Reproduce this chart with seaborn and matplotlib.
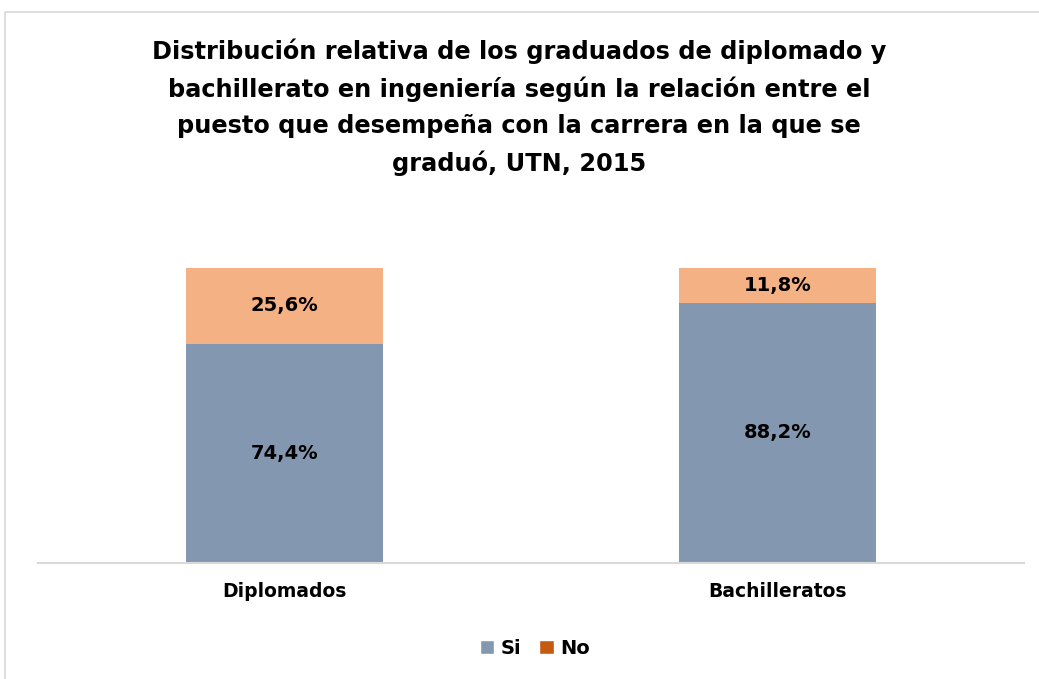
import matplotlib
matplotlib.use("Agg")
import matplotlib.pyplot as plt
from matplotlib.patches import Rectangle, Patch
import seaborn as sns
import pandas as pd

categories = ["Diplomados", "Bachilleratos"]
si_values = [74.4, 88.2]
no_values = [25.6, 11.8]
value_labels_si = ["74,4%", "88,2%"]
value_labels_no = ["25,6%", "11,8%"]

title = ("Distribución relativa de los graduados de diplomado y\n"
         "bachillerato en ingeniería según la relación entre el\n"
         "puesto que desempeña con la carrera en la que se\n"
         "graduó, UTN, 2015")

si_color = "#8497B0"
no_bar_color = "#F4B183"
no_legend_color = "#C55A11"

sns.set_theme(style="white")
plt.rcParams["font.family"] = ["DejaVu Sans"]
plt.rcParams["text.color"] = "black"
plt.rcParams["xtick.color"] = "black"

W, H = 1039, 679
fig = plt.figure(figsize=(W / 100, H / 100), dpi=100)

# chart frame
fig.patches.append(Rectangle((5 / W, -0.05), 1.2, 1 - 12 / H + 0.05,
                             transform=fig.transFigure, fill=False,
                             edgecolor="#D9D9D9", linewidth=1.2))

ax = fig.add_axes([38 / W, (H - 563) / H, 986 / W, 295 / H])

df = pd.DataFrame({"cat": categories, "si": si_values,
                   "total": [s + n for s, n in zip(si_values, no_values)]})

sns.barplot(data=df, x="cat", y="total", color=no_bar_color, width=0.4,
            saturation=1, linewidth=0, ax=ax)
sns.barplot(data=df, x="cat", y="si", color=si_color, width=0.4,
            saturation=1, linewidth=0, ax=ax)

for i, (s, n) in enumerate(zip(si_values, no_values)):
    ax.text(i, s / 2, value_labels_si[i], ha="center", va="center",
            fontsize=14, fontweight="bold", color="black")
    ax.text(i, s + n / 2, value_labels_no[i], ha="center", va="center",
            fontsize=14, fontweight="bold", color="black")

ax.set_xlim(-0.5, 1.5)
ax.set_ylim(0, 100)
ax.set_xlabel("")
ax.set_ylabel("")
ax.set_yticks([])
ax.tick_params(axis="x", length=0, pad=14, colors="black")
for lab in ax.get_xticklabels():
    lab.set_fontsize(13.5)
    lab.set_fontweight("bold")
for side in ["top", "right", "left"]:
    ax.spines[side].set_visible(False)
ax.spines["bottom"].set_color("#D9D9D9")
ax.spines["bottom"].set_linewidth(1.5)

fig.text(519 / W, 1 - 107 / H, title, ha="center", va="center",
         fontsize=17.3, fontweight="bold", linespacing=1.62, color="black")

handles = [Patch(facecolor=si_color, label="Si"),
           Patch(facecolor=no_legend_color, label="No")]
fig.legend(handles=handles, loc="center", bbox_to_anchor=(535 / W, 1 - 648 / H),
           ncol=2, frameon=False, handlelength=0.75, handleheight=0.75,
           handletextpad=0.35, columnspacing=0.9,
           prop={"weight": "bold", "size": 14})

fig.savefig("out.png", dpi=100)
